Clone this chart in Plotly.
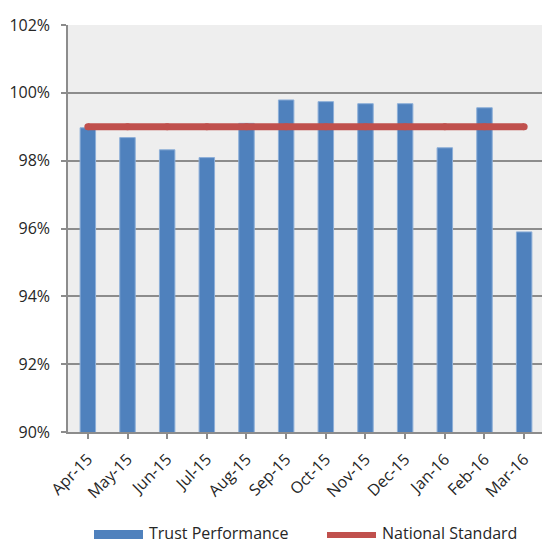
import plotly.graph_objects as go

months = ["Apr-15", "May-15", "Jun-15", "Jul-15", "Aug-15", "Sep-15",
          "Oct-15", "Nov-15", "Dec-15", "Jan-16", "Feb-16", "Mar-16"]
trust_performance = [0.9897, 0.9868, 0.9832, 0.9809, 0.9910, 0.9979,
                     0.9974, 0.9968, 0.9968, 0.9838, 0.9956, 0.9590]
national_standard = [0.99] * len(months)
y_ticks = [0.90, 0.92, 0.94, 0.96, 0.98, 1.00, 1.02]

BLUE = "#4F81BD"
RED = "#C0504D"
GRID = "#8C8C8C"
TEXT = "#262626"
FONT = "'Open Sans', sans-serif"

fig = go.Figure()
fig.add_trace(go.Bar(
    x=list(range(len(months))), y=trust_performance, name="Trust Performance",
    marker=dict(color=BLUE, line=dict(color="#8DAFD8", width=1)),
    width=0.39, showlegend=False,
))
fig.add_trace(go.Scatter(
    x=list(range(len(months))), y=national_standard, name="National Standard",
    mode="lines+markers", line=dict(color=RED, width=7),
    marker=dict(color=RED, size=7), showlegend=False,
))

fig.update_layout(
    width=542, height=544,
    margin=dict(l=68, r=0, t=25, b=112),
    paper_bgcolor="white", plot_bgcolor="#EEEEEE",
    font=dict(family=FONT, size=16, color=TEXT),
    xaxis=dict(
        tickmode="array", tickvals=list(range(len(months))), ticktext=months,
        range=[-0.5, 11.45], tickangle=-45, tickson="boundaries",
        showline=True, linecolor=GRID, linewidth=1.5,
        ticks="outside", ticklen=5, tickcolor=GRID, tickwidth=1.5,
        ticklabelstandoff=5,
        showgrid=False, zeroline=False,
    ),
    yaxis=dict(
        range=[0.90, 1.02], tickmode="array", tickvals=y_ticks,
        tickformat=".0%",
        showline=True, linecolor=GRID, linewidth=1.5,
        ticks="outside", ticklen=5, tickcolor=GRID, tickwidth=1.5,
        ticklabelstandoff=8,
        showgrid=True, gridcolor=GRID, gridwidth=1.5, zeroline=False,
    ),
    bargap=0.6,
)

# legend row under the chart
LEG_Y = -(533 - 432) / 407
fig.add_shape(type="rect", xref="paper", yref="paper",
              x0=(94 - 68) / 474, x1=(143 - 68) / 474,
              y0=-(530 - 432) / 407, y1=-(539 - 432) / 407,
              fillcolor=BLUE, line=dict(width=0))
fig.add_annotation(xref="paper", yref="paper", x=(147 - 68) / 474,
                   y=LEG_Y, text="Trust Performance",
                   showarrow=False, xanchor="left", yanchor="middle",
                   font=dict(family=FONT, size=16, color=TEXT))
fig.add_shape(type="line", xref="paper", yref="paper",
              x0=(327 - 68) / 474, x1=(376 - 68) / 474,
              y0=-(535 - 432) / 407, y1=-(535 - 432) / 407,
              line=dict(color=RED, width=6))
fig.add_annotation(xref="paper", yref="paper", x=(380 - 68) / 474,
                   y=LEG_Y, text="National Standard",
                   showarrow=False, xanchor="left", yanchor="middle",
                   font=dict(family=FONT, size=16, color=TEXT))

fig.write_html("out.html")
